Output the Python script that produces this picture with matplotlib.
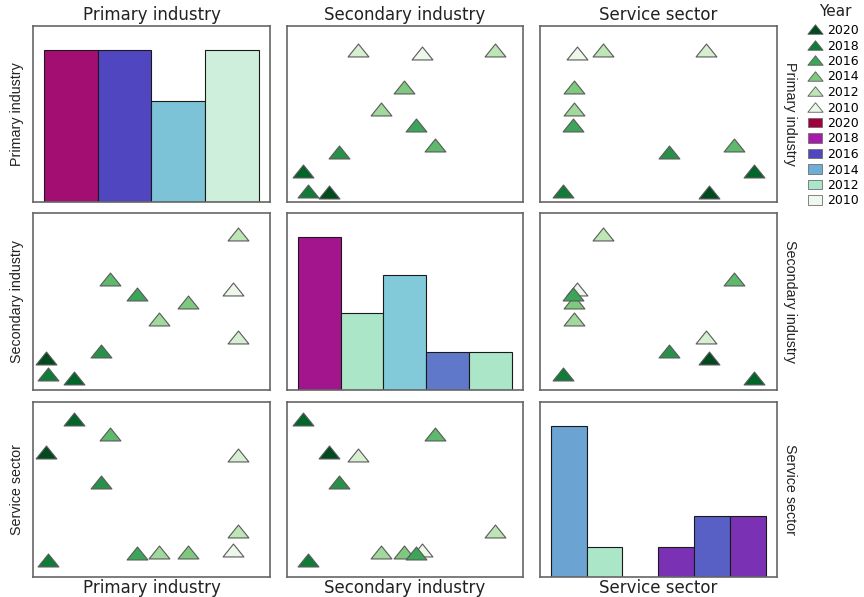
import numpy as np
import matplotlib.pyplot as plt
from matplotlib import font_manager
from matplotlib.colors import LinearSegmentedColormap
from matplotlib.lines import Line2D
from matplotlib.patches import Patch
from matplotlib.path import Path

# Data: one row per year (scaled index values)
years = np.arange(2010, 2021)
primary = np.array([84.5, 86.5, 86.5, 53.0, 65.5, 32.5, 44.0, 28.5, 6.3, 17.5, 5.5])
secondary = np.array([57.0, 30.0, 88.0, 40.0, 49.5, 62.5, 54.5, 22.0, 9.0, 6.8, 18.0])
service = np.array([15.6, 70.0, 26.5, 14.3, 14.5, 82.0, 13.9, 54.5, 9.5, 90.5, 71.2])

names = ["Primary industry", "Secondary industry", "Service sector"]
n_bins = [4, 5, 6]
legend_years = [2020, 2018, 2016, 2014, 2012, 2010]

# fill ramp used for the histogram bars (by mean year of the bin)
fill_years = [2010, 2012, 2013, 2014, 2016, 2018, 2020]
fill_colors = ["#eef8ee", "#ace6c8", "#8cd8dc", "#6eadd4", "#5046c0", "#a41ca8", "#a0003c"]
fill_cmap = LinearSegmentedColormap.from_list(
    "yearfill", [((y - 2010) / 10, c) for y, c in zip(fill_years, fill_colors)])

def point_color(y):
    t = ((y - 2010) / 10) ** 0.9
    return plt.cm.Greens(0.07 + 0.91 * t)

def fill_color(y):
    return fill_cmap((y - 2010) / 10)

# wide, flat triangle marker
tri = Path([(-1, -0.62), (1, -0.62), (0, 0.62), (-1, -0.62)],
           [Path.MOVETO, Path.LINETO, Path.LINETO, Path.CLOSEPOLY])

data = [primary, secondary, service]

installed = {f.name for f in font_manager.fontManager.ttflist}
if "Liberation Sans Narrow" in installed:
    side_font, side_size = ["Liberation Sans Narrow"], 12
else:
    side_font, side_size = ["Liberation Sans", "DejaVu Sans"], 10.3

W, H = 864, 597
fig = plt.figure(figsize=(W / 100, H / 100), dpi=100)

col_left = [33, 287, 540]
col_w = [237, 236, 237]
row_top = [26, 213, 402]
row_bot = [202, 390, 577]

frame_col = "#666666"

for i in range(3):
    for j in range(3):
        rect = [col_left[j] / W, 1 - row_bot[i] / H,
                col_w[j] / W, (row_bot[i] - row_top[i]) / H]
        ax = fig.add_axes(rect)
        ax.set_xlim(0, 100)
        if i == j:
            vals = data[i]
            edges = np.linspace(4.6, 95.2, n_bins[i] + 1)
            counts, _ = np.histogram(vals, bins=edges)
            idx = np.clip(np.digitize(vals, edges) - 1, 0, n_bins[i] - 1)
            wdt = edges[1] - edges[0]
            for b in range(n_bins[i]):
                if counts[b] == 0:
                    continue
                mean_year = years[idx == b].mean()
                ax.bar(edges[b], counts[b], width=wdt, align="edge",
                       color=fill_color(mean_year), edgecolor="#1a1a1a", linewidth=0.8)
            ax.set_ylim(0, counts.max() / 0.865)
        else:
            for k in range(len(years)):
                ax.scatter(data[j][k], data[i][k], marker=tri, s=225,
                           color=point_color(years[k]), edgecolors="#5a5a5a",
                           linewidths=0.8, zorder=3)
            ax.set_ylim(0, 100)
        ax.set_xticks([])
        ax.set_yticks([])
        for sp in ax.spines.values():
            sp.set_color(frame_col)
            sp.set_linewidth(1.2)

# strip labels
for j in range(3):
    cx = (col_left[j] + col_w[j] / 2) / W
    fig.text(cx, 1 - 15 / H, names[j], ha="center", va="center",
             fontsize=12, family=["DejaVu Sans"], color="#222222")
    fig.text(cx, 1 - 588 / H, names[j], ha="center", va="center",
             fontsize=12, family=["DejaVu Sans"], color="#222222")
for i in range(3):
    cy = 1 - (row_top[i] + row_bot[i]) / 2 / H
    fig.text(17 / W, cy, names[i], rotation=90, ha="center", va="center",
             fontsize=side_size, family=side_font, color="#222222")
    fig.text(790 / W, cy, names[i], rotation=270, ha="center", va="center",
             fontsize=side_size, family=side_font, color="#222222")

# legend: point colours then bar fills
handles, labels = [], []
for y in legend_years:
    handles.append(Line2D([], [], marker=tri, markersize=11, linestyle="none",
                          markerfacecolor=point_color(y), markeredgecolor="#5a5a5a",
                          markeredgewidth=0.6))
    labels.append(str(y))
for y in legend_years:
    handles.append(Patch(facecolor=fill_color(y), edgecolor="#6e6e6e", linewidth=0.6))
    labels.append(str(y))

fig.text(835 / W, 1 - 12 / H, "Year", ha="center", va="center",
         fontsize=11, family=["DejaVu Sans"], color="#222222")
leg = fig.legend(handles, labels, loc="upper left",
                 bbox_to_anchor=(808 / W, 1 - 24 / H), frameon=False,
                 fontsize=9, handlelength=1.1, handleheight=0.8,
                 handletextpad=0.4, labelspacing=0.2, borderaxespad=0, borderpad=0)
for t in leg.get_texts():
    t.set_family("DejaVu Sans")

fig.savefig("out.png", dpi=100)
